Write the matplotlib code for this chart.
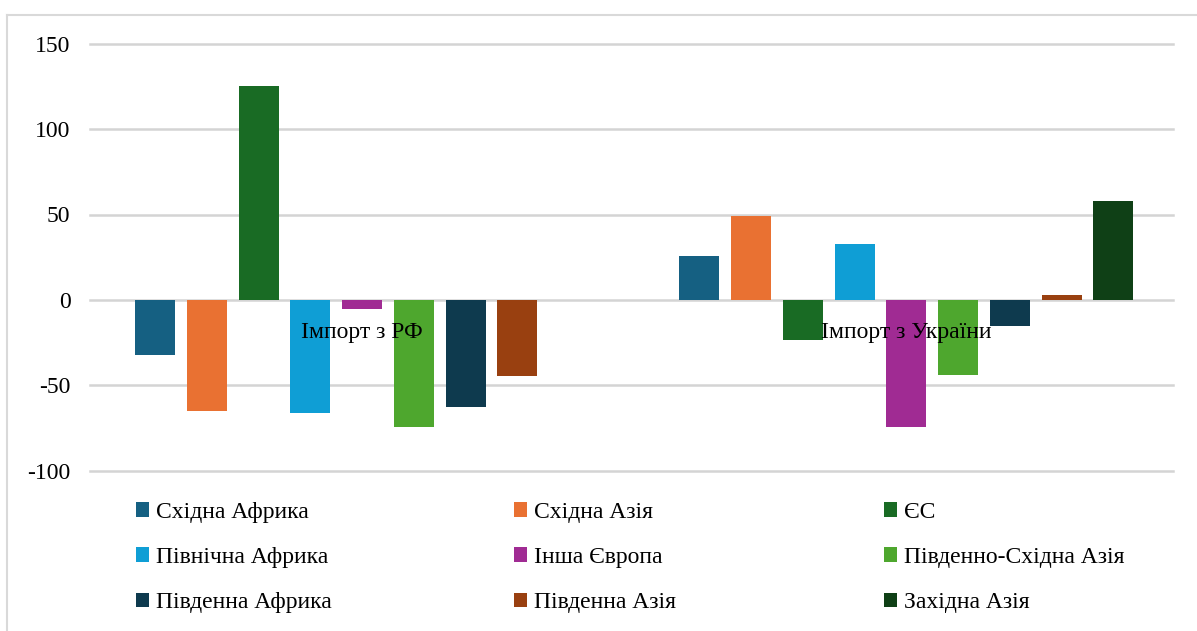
import numpy as np
import matplotlib.pyplot as plt
from matplotlib.lines import Line2D
from matplotlib.patches import Patch

plt.rcParams['font.family'] = ['Liberation Serif', 'DejaVu Serif']
plt.rcParams['axes.unicode_minus'] = False

categories = ["Імпорт з РФ", "Імпорт з України"]
regions = ["Східна Африка", "Східна Азія", "ЄС",
           "Північна Африка", "Інша Європа", "Південно-Східна Азія",
           "Південна Африка", "Південна Азія", "Західна Азія"]
values_rf = [-32, -65.3, 125, -66.5, -5.1, -74.3, -62.8, -44.8, 0]
values_ua = [25.9, 49.1, -23.6, 32.6, -74.7, -43.7, -15.2, 2.7, 57.7]
colors = ["#156082", "#E97132", "#196B24", "#0F9ED5", "#A02B93",
          "#4EA72E", "#0E3A4E", "#994010", "#0F4016"]

fig = plt.figure(figsize=(11.97, 6.31), dpi=100)
ax = fig.add_axes([90 / 1197, 1 - 470.7 / 631, 1083 / 1197, 427 / 631])

x = np.arange(len(categories))
pitch = 0.0951
width = 0.0735
for i, name in enumerate(regions):
    vals = [values_rf[i], values_ua[i]]
    ax.bar(x + (i - 4) * pitch, vals, width, color=colors[i],
           linewidth=0, label=name, zorder=2)

ax.set_xlim(-0.5, 1.49)
ax.set_ylim(-100, 150)
ax.set_yticks([-100, -50, 0, 50, 100, 150])
ax.yaxis.grid(True, color="#D4D4D4", linewidth=1.8, zorder=0)
ax.set_axisbelow(True)
ax.set_xticks([])
for s in ax.spines.values():
    s.set_visible(False)
ax.tick_params(axis="y", length=0, pad=14, labelsize=17)
for gl in ax.get_ygridlines():
    gl.set_clip_on(False)

# category labels sit next to the zero line, over the bars
for xi, cat in zip(x, categories):
    ax.annotate(cat, (xi, 0), xytext=(0, -16), textcoords="offset points",
                ha="center", va="top", fontsize=17, zorder=5)

# legend: three columns, placed one by one
col_x = [124 / 1197, 502 / 1197, 872 / 1197]
for c in range(3):
    handles = [Patch(facecolor=colors[r * 3 + c]) for r in range(3)]
    labels = [regions[r * 3 + c] for r in range(3)]
    fig.legend(handles, labels, loc="upper left",
               bbox_to_anchor=(col_x[c], 1 - 490 / 631), frameon=False,
               fontsize=17, handlelength=0.55, handleheight=0.55,
               handletextpad=0.3, labelspacing=1.02, borderpad=0)

# chart border
fig.add_artist(Line2D([7 / 1197, 7 / 1197], [0, 1 - 15 / 631],
                      color="#D9D9D9", linewidth=1.5))
fig.add_artist(Line2D([7 / 1197, 1], [1 - 15 / 631, 1 - 15 / 631],
                      color="#D9D9D9", linewidth=1.5))

plt.savefig("out.png", dpi=100)
